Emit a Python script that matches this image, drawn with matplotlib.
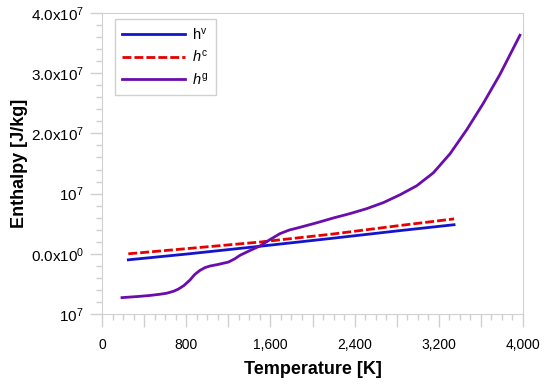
import numpy as np
import matplotlib as mpl
mpl.use('agg')
import matplotlib.pyplot as plt
from matplotlib.ticker import MultipleLocator, FixedLocator

plt.rcParams['font.family'] = ['Liberation Sans', 'DejaVu Sans']
plt.rcParams['mathtext.fontset'] = 'custom'
plt.rcParams['mathtext.rm'] = 'Liberation Sans'
plt.rcParams['mathtext.it'] = 'Liberation Sans:italic'

# h^v (blue)
t_v = [250, 800, 1500, 2200, 2830, 3345]
h_v = [-1.0e6, -0.05e6, 1.25e6, 2.6e6, 3.85e6, 4.83e6]

# h^c (red dashed)
t_c = [250, 800, 1500, 2200, 2830, 3345]
h_c = [0.0, 0.85e6, 1.95e6, 3.3e6, 4.7e6, 5.8e6]

# h^g (purple), in 1e7 J/kg
t_g = [190, 350, 456, 550, 614, 680, 725, 780, 836, 880, 931, 980, 1026,
       1100, 1200, 1260, 1311, 1400, 1501, 1600, 1691, 1780, 1881, 2040,
       2198, 2357, 2515, 2673, 2831, 2990, 3148, 3306, 3465, 3623, 3781, 3971]
h_g = [-0.728, -0.708, -0.692, -0.672, -0.655, -0.622, -0.587, -0.525,
       -0.435, -0.345, -0.275, -0.228, -0.203, -0.178, -0.138, -0.085,
       -0.025, 0.05, 0.13, 0.24, 0.335, 0.395, 0.44, 0.515, 0.595, 0.668,
       0.75, 0.85, 0.98, 1.13, 1.345, 1.66, 2.06, 2.5, 2.98, 3.63]
h_g = [v*1e7 for v in h_g]

xticks = [0, 800, 1600, 2400, 3200, 4000]
xlabels = ['0', '800', '1,600', '2,400', '3,200', '4,000']
yticks = [-1e7, 0, 1e7, 2e7, 3e7, 4e7]
ylabels = [r'10$^7$', r'0.0x10$^0$', r'10$^7$', r'2.0x10$^7$', r'3.0x10$^7$', r'4.0x10$^7$']

gray = '#d0d0d0'

fig = plt.figure(figsize=(5.48, 3.85), dpi=100)
ax = fig.add_axes([102/548, 1-314/385, 421/548, 301/385])

ax.plot(t_v, h_v, color='#1414cc', lw=2.0, label=r'$\mathrm{h}^{\mathrm{v}}$')
ax.plot(t_c, h_c, color='#e60000', lw=2.0, ls=(0, (3.2, 1.1)), label=r'$h^{\mathrm{c}}$')
ax.plot(t_g, h_g, color='#6a0dad', lw=2.0, label=r'$h^{\mathrm{g}}$')

ax.set_xlim(0, 4000)
ax.set_ylim(-1e7, 4e7)

# x: long ticks every 400, labels every 800, short ticks every 100
xmaj = np.arange(0, 4001, 400)
ax.xaxis.set_major_locator(FixedLocator(xmaj))
ax.set_xticklabels([xlabels[xticks.index(v)] if v in xticks else '' for v in xmaj])
ax.xaxis.set_minor_locator(MultipleLocator(100))
ax.yaxis.set_major_locator(FixedLocator(yticks))
ax.set_yticklabels(ylabels)
ax.yaxis.set_minor_locator(MultipleLocator(2e6))

ax.tick_params(which='major', length=9, width=1, color=gray)
ax.tick_params(which='minor', length=4.5, width=1, color=gray)
ax.tick_params(axis='x', which='major', labelsize=10, pad=8)
ax.tick_params(axis='y', which='major', labelsize=11, pad=4)
for s in ax.spines.values():
    s.set_color(gray)

ax.set_xlabel('Temperature [K]', fontsize=13, fontweight='bold', labelpad=7)
ax.set_ylabel('Enthalpy [J/kg]', fontsize=13, fontweight='bold', labelpad=2)

leg = ax.legend(loc='upper left', bbox_to_anchor=(13/421, 1-6/301), fontsize=10.5,
                handlelength=4.3, handletextpad=0.5, borderpad=0.5,
                fancybox=False, framealpha=1, edgecolor=gray,
                borderaxespad=0, labelspacing=0.45)

fig.savefig('out.png', dpi=100, facecolor='w')
